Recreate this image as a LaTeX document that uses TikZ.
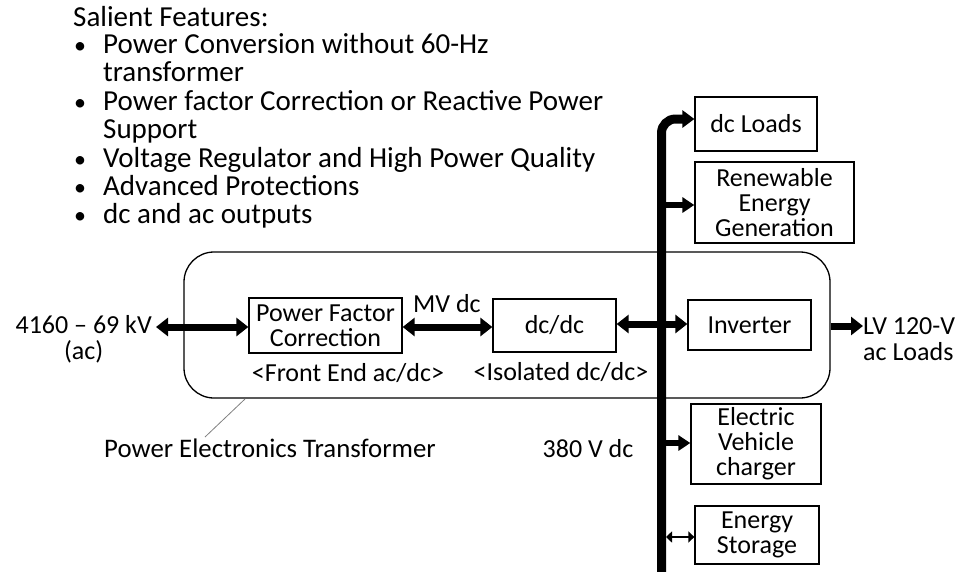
\documentclass[tikz,border=0pt]{standalone}
\usepackage{fontspec}
\setmainfont{Carlito}
\usetikzlibrary{arrows.meta}
\begin{document}
\begin{tikzpicture}[x=1pt,y=-1pt,
  txt/.style={inner sep=0pt, font=\fontsize{26}{26}\selectfont},
  feat/.style={inner sep=0pt, font=\fontsize{29}{28}\selectfont, anchor=base west, align=left},
  blk/.style={draw, line width=1.3pt, inner sep=0pt, align=center, font=\fontsize{26}{25}\selectfont},
  big/.style={line width=7pt, {Triangle[length=12pt,width=18pt]}-{Triangle[length=12pt,width=18pt]}},
  single/.style={line width=7pt, -{Triangle[length=12pt,width=18pt]}},
  branch/.style={line width=6pt, -{Triangle[length=12pt,width=15pt]}},
  busline/.style={line width=9pt, rounded corners=14pt, -{Triangle[length=12pt,width=17pt]}},
  thinarrow/.style={line width=2.2pt, {Triangle[length=6pt,width=11pt]}-{Triangle[length=6pt,width=11pt]}},
  bul/.style={inner sep=0pt, font=\fontsize{24}{24}\selectfont, anchor=base}
]
\useasboundingbox (0,0) rectangle (961,571);

% feature list
\node[feat] (title) at (73,26) {Salient Features:};
\node[bul] (b1) at (80,53) {•};
\node[feat] (f1) at (103,81) {Power Conversion without 60-Hz\\transformer};
\node[bul] (b2) at (80,110) {•};
\node[feat] (f2) at (103,138) {Power factor Correction or Reactive Power\\Support};
\node[bul] (b3) at (80,167) {•};
\node[feat] (f3) at (103,167) {Voltage Regulator and High Power Quality};
\node[bul] (b4) at (80,195) {•};
\node[feat] (f4) at (103,195) {Advanced Protections};
\node[bul] (b5) at (80,223) {•};
\node[feat] (f5) at (103,223) {dc and ac outputs};

% PET container
\node[draw, line width=1.3pt, rounded corners=30pt, minimum width=646pt, minimum height=146pt, inner sep=0pt] (pet) at (507,325) {};

% blocks
\node[blk, minimum width=153pt, minimum height=55pt] (pfc) at (325.5,325.5) {Power Factor\\Correction};
\node[blk, minimum width=123pt, minimum height=53pt] (dcdc) at (554.5,325.5) {dc/dc};
\node[blk, minimum width=123pt, minimum height=50pt] (inv) at (749.5,325) {Inverter};
\node[blk, minimum width=122pt, minimum height=54pt] (dcl) at (756,124) {dc Loads};
\node[blk, minimum width=159pt, minimum height=81pt] (reg) at (774.5,202.5) {Renewable\\Energy\\Generation};
\node[blk, minimum width=130pt, minimum height=80pt] (ev) at (756,444) {Electric\\Vehicle\\charger};
\node[blk, minimum width=124pt, minimum height=58pt] (es) at (757,535) {Energy\\Storage};

% labels
\node[txt, align=center, anchor=east] (hv) at (152,339) {4160 -- 69 kV\\(ac)};
\node[txt, align=left, anchor=west] (lv) at (863,339) {LV 120-V\\ac Loads};
\node[txt, anchor=base] (mv) at (447,312) {MV dc};
\node[txt, anchor=base] (fe) at (348,381) {<Front End ac/dc>};
\node[txt, anchor=base] (iso) at (561,380) {<Isolated dc/dc>};
\node[txt, anchor=base, font=\fontsize{26.8}{27}\selectfont] (petlab) at (270,457) {Power Electronics Transformer};
\node[txt, anchor=base] (v380) at (588,457) {380 V dc};

% connectors
\draw[big] ([xshift=4pt]hv.east |- 0,327) -- (pfc.west |- 0,327);
\draw[big] (pfc.east |- 0,327) -- (dcdc.west |- 0,327);
\draw[big] (dcdc.east |- 0,324) -- (inv.west |- 0,324);
\draw[single] (pet.east |- 0,326) -- (lv.west |- 0,326);

\coordinate (busbot) at (661.5,575);
\coordinate (busx) at (661.5,0);
\draw[busline] (busbot) -- (busx |- 0,119) -- ([yshift=5pt]dcl.west);
\draw[branch] (busx |- 0,205) -- (reg.west |- 0,205);
\draw[branch] (busx |- 0,443) -- (ev.west |- 0,443);
\draw[thinarrow] ([xshift=4.5pt]busx |- 0,537) -- (es.west |- 0,537);

\coordinate (petpt) at (245,399);
\coordinate (labpt) at (205,437);
\draw[gray, line width=0.8pt] (petpt) -- (labpt);
\end{tikzpicture}
\end{document}
